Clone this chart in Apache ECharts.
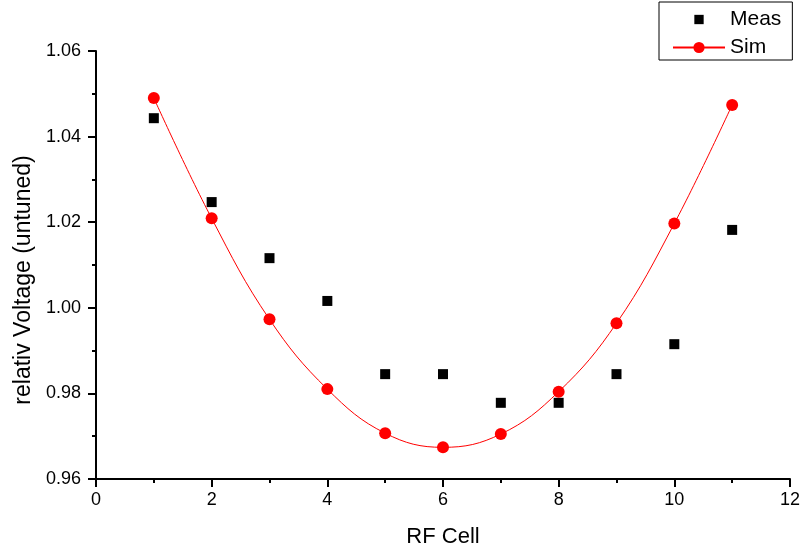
<!DOCTYPE html>
<html>
<head>
<meta charset="utf-8">
<script src="https://cdn.jsdelivr.net/npm/echarts@6/dist/echarts.min.js"></script>
<style>
html,body{margin:0;padding:0;background:#fff;}
#chart{width:803px;height:554px;}
</style>
</head>
<body>
<div id="chart"></div>
<script>
var cells = [1, 2, 3, 4, 5, 6, 7, 8, 9, 10, 11];
var measValues = [1.0443, 1.0247, 1.0116, 1.0016, 0.9845, 0.9845, 0.9778, 0.9778, 0.9845, 0.9915, 1.0182];
var simValues = [1.0490, 1.0209, 0.9973, 0.9810, 0.9707, 0.9674, 0.9705, 0.9804, 0.9964, 1.0197, 1.0474];
var xTicks = [0, 2, 4, 6, 8, 10, 12];
var yTicks = [0.96, 0.98, 1.00, 1.02, 1.04, 1.06];

function pairs(xs, ys) { return xs.map(function (x, i) { return [x, ys[i]]; }); }

var FONT = "'Liberation Sans', Arial, sans-serif";
var chart = echarts.init(document.getElementById('chart'), null, {renderer: 'canvas'});
chart.setOption({
  animation: false,
  backgroundColor: '#ffffff',
  textStyle: {fontFamily: FONT, color: '#000'},
  grid: {left: 96, right: 12, top: 51, bottom: 75, containLabel: false},
  legend: {
    orient: 'vertical',
    left: 659,
    top: 2,
    padding: [7, 11, 2, 13],
    itemGap: 7,
    itemWidth: 52,
    itemHeight: 14,
    borderColor: '#000',
    borderWidth: 1,
    textStyle: {fontFamily: FONT, fontSize: 21, color: '#000'},
    data: [
      {name: 'Meas', icon: 'path://M0,0M2,2h8v8h-8zM12,12'},
      {name: 'Sim'}
    ]
  },
  xAxis: {
    type: 'value',
    min: xTicks[0],
    max: xTicks[xTicks.length - 1],
    interval: 2,
    name: 'RF Cell',
    nameLocation: 'middle',
    nameGap: 47,
    nameTextStyle: {fontFamily: FONT, fontSize: 22, color: '#000'},
    axisLine: {show: true, onZero: false, lineStyle: {color: '#000', width: 2}},
    axisTick: {show: true, length: 8, lineStyle: {color: '#000', width: 2}},
    minorTick: {show: true, splitNumber: 2, length: 4, lineStyle: {color: '#000', width: 2}},
    axisLabel: {fontFamily: FONT, fontSize: 18, color: '#000', margin: 12},
    splitLine: {show: false},
    minorSplitLine: {show: false}
  },
  yAxis: {
    type: 'value',
    min: yTicks[0],
    max: yTicks[yTicks.length - 1],
    interval: 0.02,
    name: 'relativ Voltage (untuned)',
    nameLocation: 'middle',
    nameGap: 59,
    nameTextStyle: {fontFamily: FONT, fontSize: 23, color: '#000', padding: [0, 30, 0, 0]},
    axisLine: {show: true, onZero: false, lineStyle: {color: '#000', width: 2}},
    axisTick: {show: true, length: 8, lineStyle: {color: '#000', width: 2}},
    minorTick: {show: true, splitNumber: 2, length: 4, lineStyle: {color: '#000', width: 2}},
    axisLabel: {fontFamily: FONT, fontSize: 18, color: '#000', margin: 15,
      formatter: function (v) { return v.toFixed(2); }},
    splitLine: {show: false},
    minorSplitLine: {show: false}
  },
  series: [
    {
      name: 'Meas',
      type: 'scatter',
      symbol: 'rect',
      symbolSize: 10,
      itemStyle: {color: '#000', opacity: 1},
      data: pairs(cells, measValues),
      z: 3
    },
    {
      name: 'Sim',
      type: 'line',
      smooth: 0.4,
      symbol: 'circle',
      symbolSize: 12,
      showSymbol: true,
      lineStyle: {color: '#ff0000', width: 1},
      itemStyle: {color: '#ff0000', opacity: 1},
      data: pairs(cells, simValues),
      z: 4
    }
  ]
});
</script>
</body>
</html>
